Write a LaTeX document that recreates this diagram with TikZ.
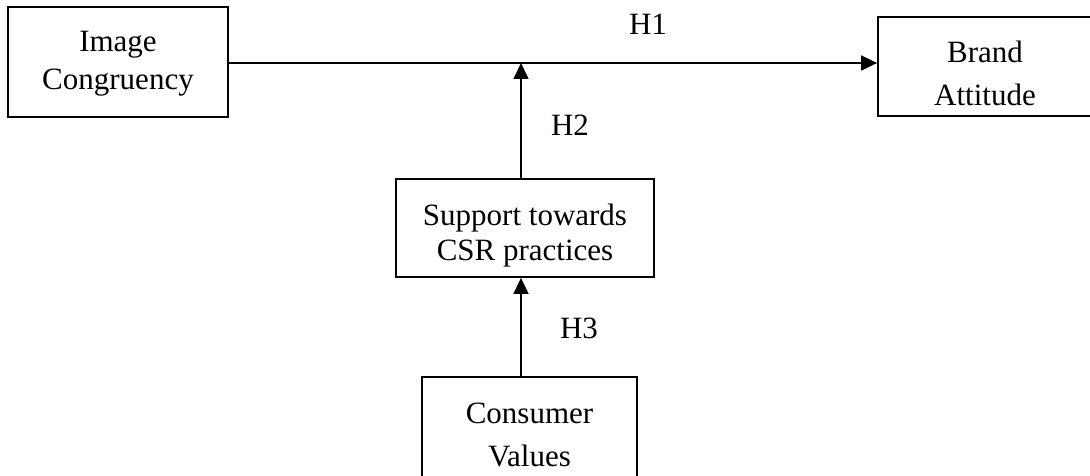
\documentclass[tikz,border=0pt]{standalone}
\usepackage{fontspec}
\setmainfont{Liberation Serif}
\usetikzlibrary{arrows.meta}
\begin{document}
\begin{tikzpicture}[x=1pt,y=-1pt,
  box/.style={draw, line width=1.8pt, inner sep=0pt},
  txt/.style={align=center, inner sep=0pt},
  arr/.style={line width=1.6pt, -{Triangle[length=16pt,width=15pt]}},
  lbl/.style={font=\fontsize{31}{37}\selectfont, inner sep=0pt}]
\clip (0,0) rectangle (1090,476);
\node[box, minimum width=220pt, minimum height=110pt,
  label={[txt, font=\fontsize{31}{38}\selectfont, yshift=-1.5pt]center:Image\\Congruency}] (ic) at (118,62) {};
\node[box, minimum width=214pt, minimum height=99pt,
  label={[txt, font=\fontsize{31}{43}\selectfont, yshift=-7pt]center:Brand\\Attitude}] (ba) at (985,66.5) {};
\node[box, minimum width=258pt, minimum height=98pt,
  label={[txt, font=\fontsize{31}{35}\selectfont, yshift=-7.5pt]center:Support towards\\CSR practices}] (sup) at (525,228) {};
\node[box, minimum width=215pt, minimum height=116pt,
  label={[txt, font=\fontsize{31}{43}\selectfont, yshift=0.5pt]center:Consumer\\Values}] (cv) at (529.5,435) {};
\coordinate (j) at (521,63);
\draw[arr] (ic.east |- j) -- (ba.west |- j);
\draw[arr] (sup.north -| j) -- (j);
\draw[arr] (cv.north -| j) -- (sup.south -| j);
\node[lbl] (h1) at (648,24) {H1};
\node[lbl] (h2) at (570,125) {H2};
\node[lbl] (h3) at (579,328) {H3};
\end{tikzpicture}
\end{document}
